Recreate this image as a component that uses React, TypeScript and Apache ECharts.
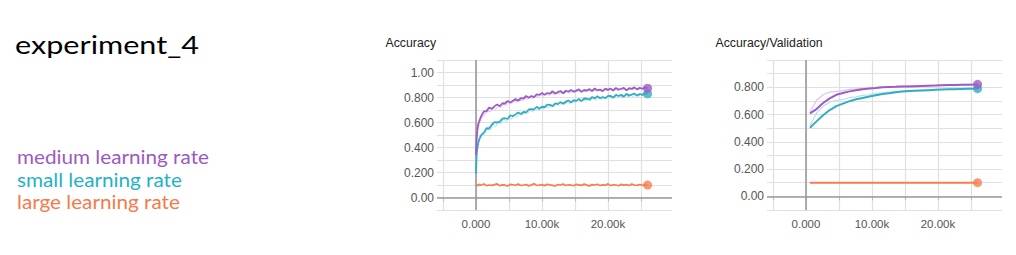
import React, { useEffect, useRef } from 'react';
import * as echarts from 'echarts';

// ---------- data ----------
const runNames = ['medium learning rate', 'small learning rate', 'large learning rate'];
const runColors = ['#9c5cc6', '#34adc3', '#f47f4f'];
const legendColors = ['#9b59c3', '#1fb2c6', '#f67a4a'];
const fadedColors = ['#dcc4ea', '#b5e0e9'];

const trainSteps = [
  0, 100, 200, 350, 500, 700, 900,
  1200, 1600, 2000, 2400, 2800, 3200, 3600, 4000, 4400, 4800,
  5200, 5600, 6000, 6400, 6800, 7200, 7600, 8000, 8400, 8800,
  9200, 9600, 10000, 10400, 10800, 11200, 11600, 12000, 12400, 12800,
  13200, 13600, 14000, 14400, 14800, 15200, 15600, 16000, 16400, 16800,
  17200, 17600, 18000, 18400, 18800, 19200, 19600, 20000, 20400, 20800,
  21200, 21600, 22000, 22400, 22800, 23200, 23600, 24000, 24400, 24800,
  25200, 25600, 26000,
];
const mediumTrain = [
  0.34, 0.47, 0.53, 0.59, 0.61, 0.64, 0.66,
  0.688, 0.691, 0.72, 0.709, 0.729, 0.745, 0.73, 0.754, 0.752, 0.772,
  0.76, 0.774, 0.787, 0.774, 0.795, 0.792, 0.812, 0.798, 0.812, 0.803,
  0.825, 0.821, 0.836, 0.821, 0.836, 0.83, 0.85, 0.831, 0.843, 0.852,
  0.834, 0.854, 0.846, 0.861, 0.846, 0.855, 0.865, 0.845, 0.86, 0.855,
  0.867, 0.852, 0.872, 0.857, 0.863, 0.851, 0.871, 0.861, 0.871, 0.856,
  0.877, 0.862, 0.87, 0.877, 0.857, 0.874, 0.869, 0.881, 0.865, 0.877,
  0.87, 0.881, 0.874,
];
const smallTrain = [
  0.19, 0.34, 0.39, 0.44, 0.465, 0.49, 0.505,
  0.519, 0.554, 0.552, 0.582, 0.603, 0.6, 0.605, 0.631, 0.634, 0.628,
  0.658, 0.65, 0.665, 0.68, 0.668, 0.684, 0.68, 0.704, 0.707, 0.704,
  0.726, 0.71, 0.726, 0.722, 0.743, 0.741, 0.731, 0.753, 0.748, 0.763,
  0.751, 0.765, 0.777, 0.76, 0.778, 0.773, 0.788, 0.771, 0.792, 0.79,
  0.783, 0.804, 0.793, 0.81, 0.794, 0.804, 0.795, 0.813, 0.812, 0.799,
  0.821, 0.812, 0.821, 0.807, 0.829, 0.815, 0.824, 0.831, 0.815, 0.828,
  0.821, 0.835, 0.829,
];
const largeTrain = [
  0.098, 0.104, 0.101, 0.093, 0.106, 0.099, 0.102, 0.108, 0.095, 0.1,
  0.097, 0.103, 0.109, 0.094, 0.101, 0.099, 0.092, 0.105, 0.102, 0.098,
  0.107, 0.096, 0.1, 0.104, 0.093, 0.101, 0.11, 0.097, 0.099, 0.103,
  0.095, 0.106, 0.101, 0.097, 0.092, 0.104, 0.1, 0.108, 0.096, 0.102,
  0.099, 0.094, 0.105, 0.101, 0.097, 0.107, 0.099, 0.093, 0.103, 0.1,
  0.106, 0.096, 0.101, 0.098, 0.109, 0.095, 0.102, 0.1, 0.094, 0.105,
  0.099, 0.103, 0.096, 0.107, 0.1, 0.097, 0.104, 0.098, 0.101, 0.099,
];

const rawSteps = [
  50, 150, 300, 600, 800, 1000,
  1400, 1800, 2200, 2600, 3000, 3400, 3800, 4200, 4600, 5000,
  5400, 5800, 6200, 6600, 7000, 7400, 7800, 8200, 8600, 9000,
  9400, 9800, 10200, 10600, 11000, 11400, 11800, 12200, 12600, 13000,
  13400, 13800, 14200, 14600, 15000, 15400, 15800, 16200, 16600, 17000,
  17400, 17800, 18200, 18600, 19000, 19400, 19800, 20200, 20600, 21000,
  21400, 21800, 22200, 22600, 23000, 23400, 23800, 24200, 24600, 25000,
  25400, 25800,
];
const mediumTrainRaw = [
  0.4, 0.49, 0.55, 0.6, 0.63, 0.645,
  0.665, 0.69, 0.685, 0.715, 0.705, 0.73, 0.72, 0.748, 0.735, 0.76,
  0.752, 0.77, 0.763, 0.78, 0.772, 0.795, 0.785, 0.8, 0.792, 0.812,
  0.8, 0.822, 0.81, 0.83, 0.815, 0.835, 0.825, 0.84, 0.828, 0.845,
  0.832, 0.848, 0.836, 0.851, 0.84, 0.853, 0.843, 0.856, 0.845, 0.858,
  0.848, 0.86, 0.85, 0.863, 0.852, 0.865, 0.855, 0.867, 0.857, 0.868,
  0.858, 0.87, 0.86, 0.872, 0.861, 0.873, 0.863, 0.875, 0.865, 0.876,
  0.866, 0.877,
];
const smallTrainRaw = [
  0.28, 0.36, 0.42, 0.47, 0.485, 0.5,
  0.515, 0.55, 0.54, 0.585, 0.565, 0.605, 0.59, 0.63, 0.605, 0.645,
  0.625, 0.66, 0.64, 0.675, 0.655, 0.69, 0.67, 0.7, 0.685, 0.712,
  0.695, 0.722, 0.705, 0.732, 0.715, 0.742, 0.725, 0.75, 0.735, 0.758,
  0.745, 0.765, 0.752, 0.772, 0.758, 0.778, 0.765, 0.785, 0.77, 0.79,
  0.775, 0.795, 0.78, 0.8, 0.786, 0.804, 0.79, 0.808, 0.794, 0.812,
  0.798, 0.815, 0.802, 0.819, 0.805, 0.822, 0.808, 0.825, 0.811, 0.828,
  0.814, 0.83,
];

const valSteps = [
  600, 1600, 2600, 3600, 4600, 5600, 6600, 7600, 8600, 9600,
  10600, 11600, 12600, 13600, 14600, 15600, 16600, 17600, 18600, 19600,
  20600, 21600, 22600, 23600, 24600, 25600, 26000,
];
const mediumVal = [
  0.608, 0.64, 0.685, 0.719, 0.745, 0.758, 0.77, 0.778, 0.786, 0.791,
  0.795, 0.8, 0.802, 0.803, 0.805, 0.806, 0.808, 0.81, 0.812, 0.813,
  0.815, 0.816, 0.817, 0.818, 0.819, 0.821, 0.822,
];
const mediumValRaw = [
  0.62, 0.705, 0.745, 0.765, 0.77, 0.776, 0.785, 0.788, 0.792, 0.795,
  0.8, 0.804, 0.803, 0.806, 0.808, 0.81, 0.811, 0.812, 0.815, 0.816,
  0.816, 0.818, 0.82, 0.82, 0.821, 0.822, 0.823,
];
const smallVal = [
  0.503, 0.55, 0.595, 0.633, 0.662, 0.68, 0.698, 0.712, 0.722, 0.732,
  0.741, 0.75, 0.757, 0.764, 0.769, 0.773, 0.775, 0.777, 0.779, 0.781,
  0.783, 0.785, 0.786, 0.788, 0.789, 0.79, 0.79,
];
const smallValRaw = [
  0.52, 0.61, 0.66, 0.69, 0.705, 0.71, 0.725, 0.73, 0.74, 0.745,
  0.755, 0.76, 0.765, 0.77, 0.772, 0.775, 0.778, 0.779, 0.781, 0.783,
  0.785, 0.786, 0.788, 0.789, 0.79, 0.791, 0.791,
];
const largeVal = [
  0.1, 0.1, 0.1, 0.1, 0.1, 0.1, 0.1, 0.1, 0.1, 0.1,
  0.1, 0.1, 0.1, 0.1, 0.1, 0.1, 0.1, 0.1, 0.1, 0.1,
  0.1, 0.1, 0.1, 0.1, 0.1, 0.1, 0.1,
];

const xTickValues = [-5000, 0, 5000, 10000, 15000, 20000, 25000];
const xLabelValues = [0, 10000, 20000];
const xLabelTexts = ['0.000', '10.00k', '20.00k'];
const accLabelValues = [0, 0.2, 0.4, 0.6, 0.8, 1.0];
const accLabelTexts = ['0.00', '0.200', '0.400', '0.600', '0.800', '1.00'];
const valLabelValues = [0, 0.2, 0.4, 0.6, 0.8];
const valLabelTexts = ['0.00', '0.200', '0.400', '0.600', '0.800'];

const chartTitles = ['Accuracy', 'Accuracy/Validation'];
const pageTitle = 'experiment_4';

// ---------- helpers ----------
const pairs = (xs: number[], ys: number[]) => xs.map((x, i) => [x, ys[i]]);
const fmt = (vals: number[], texts: string[]) => (v: number) => {
  const i = vals.findIndex((t) => Math.abs(t - v) < 1e-6);
  return i >= 0 ? texts[i] : '';
};
const measure = (text: string, font: string) => {
  const ctx = document.createElement('canvas').getContext('2d')!;
  ctx.font = font;
  return ctx.measureText(text).width;
};

const AXIS_FONT = 'Liberation Sans';
const GRID_LEFT = [437, 767];

export default function App() {
  const ref = useRef<HTMLDivElement>(null);

  useEffect(() => {
    const chart = echarts.init(ref.current!, null, { renderer: 'svg' });

    const xAxis = [0, 1].map((g) => ({
      type: 'value',
      gridIndex: g,
      min: -5900,
      max: 29700,
      axisLine: { show: false },
      axisTick: {
        show: true,
        customValues: xTickValues,
        length: 4,
        lineStyle: { color: '#bbbbbb', width: 1 },
      },
      axisLabel: {
        customValues: xLabelValues,
        formatter: fmt(xLabelValues, xLabelTexts),
        color: '#555555',
        fontSize: 11.5,
        fontFamily: AXIS_FONT,
        margin: 8,
      },
      splitLine: { show: true, lineStyle: { color: '#e0e0e0', width: 1.2 } },
    }));

    const yAxis = [0, 1].map((g) => ({
      type: 'value',
      gridIndex: g,
      min: -0.1,
      max: g === 0 ? 1.1 : 1.0,
      interval: 0.1,
      axisLine: { show: false },
      axisTick: { show: false },
      axisLabel: {
        formatter: g === 0 ? fmt(accLabelValues, accLabelTexts) : fmt(valLabelValues, valLabelTexts),
        color: '#555555',
        fontSize: 12,
        fontFamily: AXIS_FONT,
        margin: 3,
      },
      splitLine: { show: true, lineStyle: { color: '#e0e0e0', width: 1.2 } },
    }));

    const zeroLines = {
      silent: true,
      symbol: 'none',
      z: 1,
      label: { show: false },
      lineStyle: { color: '#9a9a9a', width: 1.6, type: 'solid' },
      data: [{ xAxis: 0 }, { yAxis: 0 }],
    };

    const line = (g: number, data: number[][], color: string, width: number, extra: any = {}) => ({
      type: 'line',
      xAxisIndex: g,
      yAxisIndex: g,
      data,
      showSymbol: false,
      symbol: 'none',
      silent: true,
      lineStyle: { color, width },
      itemStyle: { color },
      ...extra,
    });
    const endDot = (g: number, xs: number[], ys: number[], color: string) => ({
      type: 'scatter',
      xAxisIndex: g,
      yAxisIndex: g,
      data: [[xs[xs.length - 1], ys[ys.length - 1]]],
      symbolSize: 9,
      silent: true,
      itemStyle: { color },
      z: 4,
    });

    const series: any[] = [
      // Accuracy (train)
      line(0, pairs(rawSteps, mediumTrainRaw), fadedColors[0], 1, { markLine: zeroLines }),
      line(0, pairs(rawSteps, smallTrainRaw), fadedColors[1], 1),
      line(0, pairs(trainSteps, largeTrain), runColors[2], 1.7),
      line(0, pairs(trainSteps, smallTrain), runColors[1], 1.8),
      line(0, pairs(trainSteps, mediumTrain), runColors[0], 1.8),
      endDot(0, trainSteps, largeTrain, runColors[2]),
      endDot(0, trainSteps, smallTrain, runColors[1]),
      endDot(0, trainSteps, mediumTrain, runColors[0]),
      // Accuracy/Validation
      line(1, pairs(valSteps, mediumValRaw), fadedColors[0], 1.2, { markLine: zeroLines }),
      line(1, pairs(valSteps, smallValRaw), fadedColors[1], 1.2),
      line(1, pairs(valSteps, largeVal), runColors[2], 2),
      line(1, pairs(valSteps, smallVal), runColors[1], 2),
      line(1, pairs(valSteps, mediumVal), runColors[0], 2),
      endDot(1, valSteps, largeVal, runColors[2]),
      endDot(1, valSteps, smallVal, runColors[1]),
      endDot(1, valSteps, mediumVal, runColors[0]),
    ];

    const TITLE_FONT = 'Lato';
    const titleSize = 25;
    const titleScale = 184 / measure(pageTitle, `${titleSize}px ${TITLE_FONT}`);
    const legendSize = 19;
    const legendScale = 192 / measure(runNames[0], `${legendSize}px ${TITLE_FONT}`);

    const graphic: any[] = [
      {
        type: 'text',
        x: 15,
        y: 44.5,
        scaleX: titleScale,
        silent: true,
        style: {
          text: pageTitle,
          fill: '#000000',
          fontSize: titleSize,
          fontFamily: TITLE_FONT,
          align: 'left',
          verticalAlign: 'middle',
        },
      },
      ...runNames.map((name, i) => ({
        type: 'text',
        x: 17,
        y: 156.5 + i * 22.5,
        scaleX: legendScale,
        silent: true,
        style: {
          text: name,
          fill: legendColors[i],
          fontSize: legendSize,
          fontFamily: TITLE_FONT,
          align: 'left',
          verticalAlign: 'middle',
        },
      })),
      ...chartTitles.map((t, i) => ({
        type: 'text',
        x: 385.5 + i * 330,
        y: 43,
        silent: true,
        style: {
          text: t,
          fill: '#222222',
          fontSize: 12.3,
          fontFamily: AXIS_FONT,
          align: 'left',
          verticalAlign: 'middle',
        },
      })),
    ];

    chart.setOption({
      animation: false,
      backgroundColor: '#ffffff',
      grid: GRID_LEFT.map((left) => ({
        left,
        top: 60,
        width: 235,
        height: 150,
        containLabel: false,
        outerBoundsMode: 'none',
      })),
      xAxis,
      yAxis,
      series,
      graphic,
    });

    return () => chart.dispose();
  }, []);

  return (
    <div
      ref={ref}
      style={{ position: 'fixed', left: 0, top: 0, width: 1016, height: 255, background: '#fff' }}
    />
  );
}
